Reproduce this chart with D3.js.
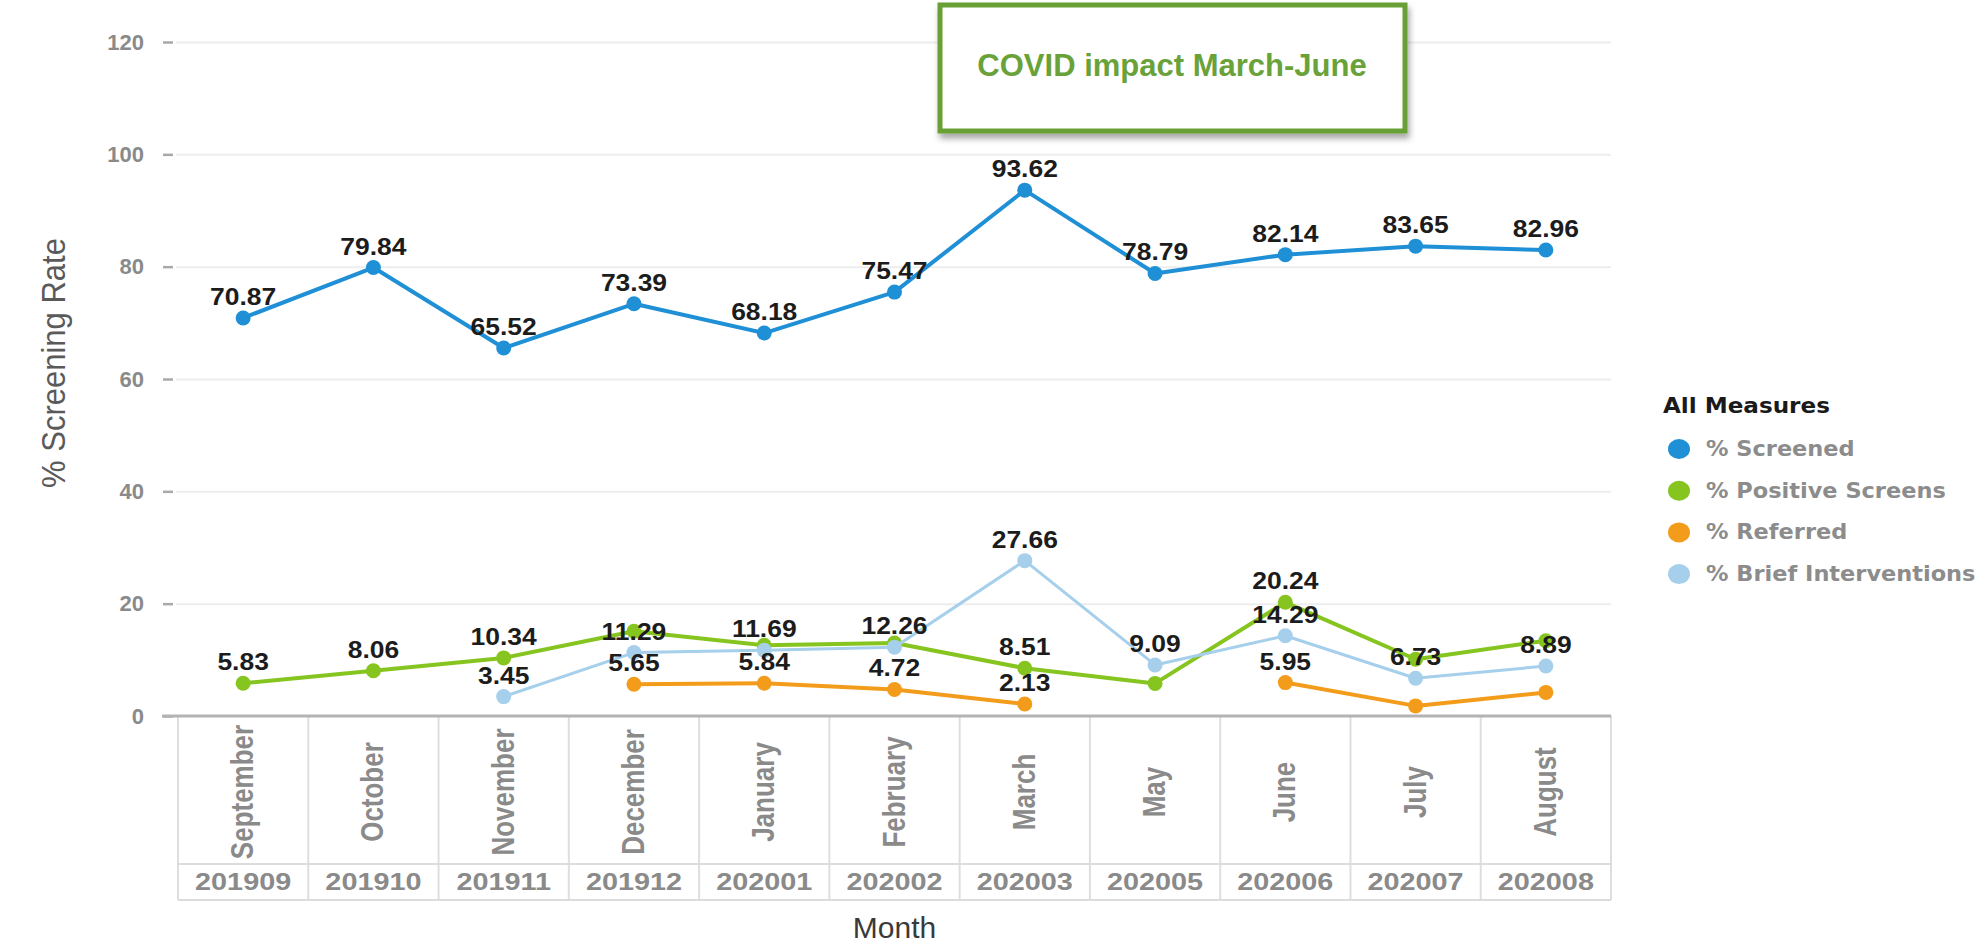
<!DOCTYPE html>
<html>
<head>
<meta charset="utf-8">
<script src="https://cdnjs.cloudflare.com/ajax/libs/d3/7.8.5/d3.min.js"></script>
<style>
  body { margin: 0; background: #fff; }
  svg { display: block; font-family: "Liberation Sans", Arial, sans-serif; }
</style>
</head>
<body>
<svg class="chart"></svg>
<script>
//======
// Data
//======

var months = ["September", "October", "November", "December", "January", "February",
              "March", "May", "June", "July", "August"];
var periods = ["201909", "201910", "201911", "201912", "202001", "202002",
               "202003", "202005", "202006", "202007", "202008"];
var yTicks = [0, 20, 40, 60, 80, 100, 120];

var screened = [70.87, 79.84, 65.52, 73.39, 68.18, 75.47, 93.62, 78.79, 82.14, 83.65, 82.96];
var positive = [5.83, 8.06, 10.34, 15.1, 12.6, 13.0, 8.51, 5.8, 20.24, 10.1, 13.4];
var referred = [null, null, null, 5.65, 5.84, 4.72, 2.13, null, 5.95, 1.8, 4.2];
var brief = [null, null, 3.45, 11.29, 11.69, 12.26, 27.66, 9.09, 14.29, 6.73, 8.89];

// which points carry a value label (others are hidden by overlap in the source)
var screenedShown = [0, 1, 2, 3, 4, 5, 6, 7, 8, 9, 10];
var positiveShown = [0, 1, 2, 6, 8];
var referredShown = [3, 4, 5, 6, 8];
var briefShown = [2, 3, 4, 5, 6, 7, 8, 9, 10];

var seriesNames = ["% Screened", "% Positive Screens", "% Referred", "% Brief Interventions"];
var legendTitle = "All Measures";
var noteText = "COVID impact March-June";

//=======
// Chart
//=======

var width = 1984,
  height = 945,
  plotLeft = 178,
  plotRight = 1611,
  plotTop = 42,
  plotBottom = 716,
  monthRow = 864,
  yearRow = 900;

var series = [
  {name: seriesNames[0], values: screened, shown: screenedShown, color: "#1f8fd6", width: 4},
  {name: seriesNames[1], values: positive, shown: positiveShown, color: "#86c51f", width: 4},
  {name: seriesNames[2], values: referred, shown: referredShown, color: "#f39c1c", width: 4},
  {name: seriesNames[3], values: brief, shown: briefShown, color: "#a5cfeb", width: 3}
];

var svg = d3.select(".chart")
  .attr("width", width)
  .attr("height", height);

svg.append("rect").attr("width", width).attr("height", height).attr("fill", "#fff");

var x = d3.scaleBand()
  .domain(periods)
  .range([plotLeft, plotRight]);

var y = d3.scaleLinear()
  .domain([0, 120])
  .range([plotBottom, plotTop]);

// gridlines + y axis
var yAxis = svg.append("g")
  .attr("transform", "translate(" + plotLeft + ",0)")
  .call(d3.axisLeft(y).tickValues(yTicks).tickSize(0).tickPadding(34));
yAxis.select(".domain").remove();
yAxis.selectAll(".tick text")
  .attr("fill", "#8a8a8a")
  .style("font-size", "22px")
  .style("font-weight", "bold");
yAxis.selectAll(".tick")
  .append("line")
  .attr("x1", -15).attr("x2", -5)
  .attr("stroke", "#a8a8a8").attr("stroke-width", 2.5);
yAxis.selectAll(".tick")
  .filter(function(d) { return d > 0; })
  .append("line")
  .attr("x1", -2).attr("x2", plotRight - plotLeft)
  .attr("stroke", "#ededed").attr("stroke-width", 2);

// category table under the plot
var table = svg.append("g");
var edges = periods.map(function(p) { return x(p); }).concat([plotRight]);
table.selectAll("line.col")
  .data(edges)
  .enter()
  .append("line")
  .attr("class", "col")
  .attr("x1", function(d) { return d; })
  .attr("x2", function(d) { return d; })
  .attr("y1", plotBottom)
  .attr("y2", yearRow)
  .attr("stroke", "#dedede")
  .attr("stroke-width", 2);
[monthRow, yearRow].forEach(function(yy) {
  table.append("line")
    .attr("x1", plotLeft).attr("x2", plotRight)
    .attr("y1", yy).attr("y2", yy)
    .attr("stroke", "#dcdcdc").attr("stroke-width", 2);
});
table.append("line")
  .attr("x1", plotLeft - 16).attr("x2", plotRight)
  .attr("y1", plotBottom).attr("y2", plotBottom)
  .attr("stroke", "#b3b3b3").attr("stroke-width", 3);

table.selectAll("text.month")
  .data(periods)
  .enter()
  .append("text")
  .attr("class", "month")
  .attr("transform", function(d) {
    return "translate(" + (x(d) + x.bandwidth() / 2 + 10) + ",792) rotate(-90) scale(1,1.2)";
  })
  .attr("text-anchor", "middle")
  .attr("fill", "#8a8a8a")
  .style("font-size", "26px")
  .style("font-weight", "bold")
  .text(function(d, i) { return months[i]; });

table.selectAll("text.period")
  .data(periods)
  .enter()
  .append("text")
  .attr("class", "period")
  .attr("transform", function(d) {
    return "translate(" + (x(d) + x.bandwidth() / 2) + ",890) scale(1.2,1)";
  })
  .attr("text-anchor", "middle")
  .attr("fill", "#8a8a8a")
  .style("font-size", "24px")
  .style("font-weight", "bold")
  .text(function(d) { return d; });

// axis titles
svg.append("text")
  .attr("transform", "translate(65,363) rotate(-90) scale(1,1.1)")
  .attr("text-anchor", "middle")
  .attr("fill", "#5a5a5a")
  .style("font-size", "31px")
  .text("% Screening Rate");

svg.append("text")
  .attr("x", (plotLeft + plotRight) / 2)
  .attr("y", 938)
  .attr("text-anchor", "middle")
  .attr("fill", "#3a3a3a")
  .style("font-size", "30px")
  .text("Month");

// lines and points
var cx = function(i) { return x(periods[i]) + x.bandwidth() / 2; };
var line = d3.line()
  .defined(function(d) { return d != null; })
  .x(function(d, i) { return cx(i); })
  .y(function(d) { return y(d); });

series.forEach(function(s) {
  var g = svg.append("g");
  g.append("path")
    .attr("d", line(s.values))
    .attr("fill", "none")
    .attr("stroke", s.color)
    .attr("stroke-width", s.width)
    .attr("stroke-linejoin", "round");
  g.selectAll("circle")
    .data(s.values.map(function(v, i) { return {v: v, i: i}; })
      .filter(function(d) { return d.v != null; }))
    .enter()
    .append("circle")
    .attr("cx", function(d) { return cx(d.i); })
    .attr("cy", function(d) { return y(d.v); })
    .attr("r", 7.5)
    .attr("fill", s.color);
});

// value labels on top
series.forEach(function(s) {
  svg.append("g").selectAll("text")
    .data(s.shown)
    .enter()
    .append("text")
    .attr("transform", function(i) {
      return "translate(" + cx(i) + "," + (y(s.values[i]) - 13) + ") scale(1.15,1)";
    })
    .attr("text-anchor", "middle")
    .attr("fill", "#1c1c1c")
    .style("font-size", "23px")
    .style("font-weight", "bold")
    .text(function(i) { return s.values[i].toFixed(2); });
});

// annotation box
var defs = svg.append("defs");
defs.append("filter")
  .attr("id", "shadow")
  .attr("x", "-10%").attr("y", "-10%").attr("width", "120%").attr("height", "130%")
  .append("feDropShadow")
  .attr("dx", 2).attr("dy", 5).attr("stdDeviation", 3)
  .attr("flood-color", "#000").attr("flood-opacity", 0.35);

var note = svg.append("g");
note.append("rect")
  .attr("x", 940).attr("y", 5)
  .attr("width", 465).attr("height", 126)
  .attr("fill", "#fff")
  .attr("stroke", "#67a034")
  .attr("stroke-width", 5)
  .attr("filter", "url(#shadow)");
note.append("text")
  .attr("x", 1172).attr("y", 76)
  .attr("text-anchor", "middle")
  .attr("fill", "#6aa23a")
  .style("font-size", "31px")
  .style("font-weight", "bold")
  .text(noteText);

// legend
var legend = svg.append("g")
  .style("font-family", "'DejaVu Sans', Verdana, sans-serif")
  .style("font-weight", "bold");
legend.append("text")
  .attr("transform", "translate(1663,413) scale(1.1,1)")
  .attr("fill", "#1a1a1a")
  .style("font-size", "21px")
  .text(legendTitle);
var item = legend.selectAll("g.item")
  .data(series)
  .enter()
  .append("g")
  .attr("class", "item")
  .attr("transform", function(d, i) { return "translate(1679," + (449 + i * 41.7) + ")"; });
item.append("ellipse")
  .attr("rx", 11).attr("ry", 10)
  .attr("fill", function(d) { return d.color; });
item.append("text")
  .attr("transform", "translate(27,7) scale(1.07,1)")
  .attr("fill", "#8c8c8c")
  .style("font-size", "21px")
  .text(function(d) { return d.name; });
</script>
</body>
</html>
